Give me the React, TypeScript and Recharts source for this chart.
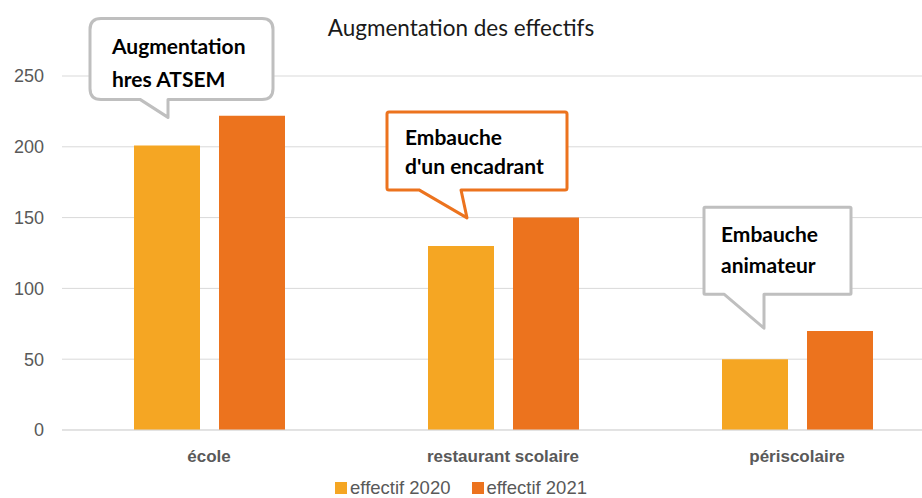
import React from 'react';
import { BarChart, Bar, XAxis, YAxis, CartesianGrid, Legend } from 'recharts';

const categories = ['école', 'restaurant scolaire', 'périscolaire'];
const effectif2020 = [201, 130, 50];
const effectif2021 = [222, 150, 70];
const yTicks = [0, 50, 100, 150, 200, 250];
const seriesNames = ['effectif 2020', 'effectif 2021'];
const calloutLines = [
  ['Augmentation', 'hres ATSEM'],
  ['Embauche', "d'un encadrant"],
  ['Embauche', 'animateur'],
];

const data = categories.map((c, i) => ({
  name: c,
  e2020: effectif2020[i],
  e2021: effectif2021[i],
}));

const C2020 = '#F5A623';
const C2021 = '#EC731E';
const GRAY = '#595959';

// callout geometry relative to bar center (cx) and bar top (ty)
const calloutStyle = [
  { l: -77, r: 106, t: -127, b: -46, bl: -27, br: 1, ax: 1, ay: -28, rx: 11, stroke: '#BFBFBF', tx: 22, ty0: 36, step: 33 },
  { l: -74, r: 106, t: -134, b: -56, bl: -42, br: 0, ax: 6, ay: -28, rx: 2, stroke: '#EC731E', tx: 18, ty0: 33, step: 29 },
  { l: -51, r: 96, t: -152, b: -65, bl: -31, br: 9, ax: 9, ay: -31, rx: 1, stroke: '#BFBFBF', tx: 17, ty0: 35, step: 31 },
];

const renderCallout = (props: any) => {
  const { x, y, width, index } = props;
  const s = calloutStyle[index];
  const lines = calloutLines[index];
  if (!s || !lines) return null;
  const cx = Number(x) + Number(width) / 2;
  const ty = Number(y);
  const L = cx + s.l, R = cx + s.r, T = ty + s.t, B = ty + s.b;
  const r = s.rx;
  const d = [
    `M ${L + r} ${T}`,
    `L ${R - r} ${T}`,
    `Q ${R} ${T} ${R} ${T + r}`,
    `L ${R} ${B - r}`,
    `Q ${R} ${B} ${R - r} ${B}`,
    `L ${cx + s.br} ${B}`,
    `L ${cx + s.ax} ${ty + s.ay}`,
    `L ${cx + s.bl} ${B}`,
    `L ${L + r} ${B}`,
    `Q ${L} ${B} ${L} ${B - r}`,
    `L ${L} ${T + r}`,
    `Q ${L} ${T} ${L + r} ${T}`,
    'Z',
  ].join(' ');
  return (
    <g key={`callout-${index}`}>
      <path d={d} fill="#FFFFFF" stroke={s.stroke} strokeWidth={3} strokeLinejoin="round" />
      {lines.map((ln, k) => (
        <text
          key={k}
          x={L + s.tx}
          y={T + s.ty0 + k * s.step}
          fontFamily="Lato, 'DejaVu Sans', sans-serif"
          fontWeight={700}
          fontSize={21}
          fill="#000000"
        >
          {ln}
        </text>
      ))}
    </g>
  );
};

const renderLegend = () => (
  <div
    style={{
      display: 'flex',
      justifyContent: 'center',
      alignItems: 'center',
      height: 22,
      paddingTop: 2,
      boxSizing: 'border-box',
      fontFamily: "'Liberation Sans', Arial, sans-serif",
      fontSize: 18.5,
      color: GRAY,
      lineHeight: '20px',
    }}
  >
    {seriesNames.map((n, i) => (
      <div key={n} style={{ display: 'flex', alignItems: 'center', marginRight: i === 0 ? 21 : 0 }}>
        <div style={{ width: 12, height: 12, background: i === 0 ? C2020 : C2021, marginRight: 3 }} />
        <span>{n}</span>
      </div>
    ))}
  </div>
);

export default function App() {
  return (
    <div
      style={{
        position: 'fixed',
        top: 0,
        left: 0,
        width: 922,
        height: 498,
        overflow: 'hidden',
        background: '#FFFFFF',
      }}
    >
      <div
        style={{
          position: 'absolute',
          top: 14,
          left: 0,
          width: 922,
          textAlign: 'center',
          fontFamily: "Lato, 'DejaVu Sans', sans-serif",
          fontSize: 22.5,
          color: '#1A1A1A',
          zIndex: 2,
        }}
      >
        Augmentation des effectifs
      </div>
      <BarChart
        width={944}
        height={498}
        data={data}
        margin={{ top: 76, right: 0, left: 0, bottom: 0 }}
        barGap={19}
        barSize={66}
      >
        <CartesianGrid vertical={false} stroke="#D9D9D9" strokeWidth={1} />
        <XAxis
          dataKey="name"
          height={46}
          axisLine={{ stroke: '#D9D9D9' }}
          tickLine={false}
          tickSize={0}
          tickMargin={20}
          tick={{ fill: GRAY, fontSize: 17, fontWeight: 700, fontFamily: "'Liberation Sans', Arial, sans-serif" }}
          interval={0}
        />
        <YAxis
          width={62}
          domain={[0, 250]}
          ticks={yTicks}
          axisLine={false}
          tickLine={false}
          tickSize={0}
          tickMargin={18}
          tick={{ fill: GRAY, fontSize: 18, fontFamily: "'Liberation Sans', Arial, sans-serif" }}
        />
        <Legend
          verticalAlign="bottom"
          content={renderLegend}
          wrapperStyle={{ left: 0, width: 922, bottom: 0, height: 22 }}
        />
        <Bar dataKey="e2020" name={seriesNames[0]} fill={C2020} isAnimationActive={false} label={renderCallout} />
        <Bar dataKey="e2021" name={seriesNames[1]} fill={C2021} isAnimationActive={false} />
      </BarChart>
    </div>
  );
}
